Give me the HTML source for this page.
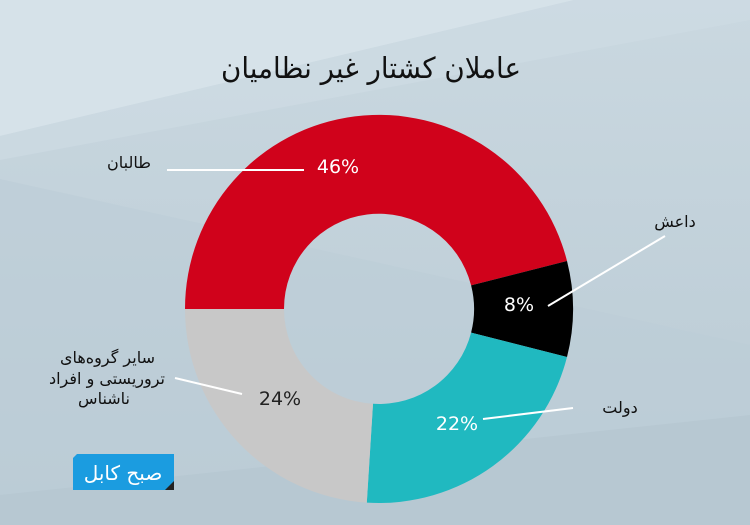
<!DOCTYPE html>
<html><head><meta charset="utf-8"><style>
html,body{margin:0;padding:0;width:750px;height:525px;overflow:hidden;background:#c4d3dc}
svg{display:block}
text{font-family:"DejaVu Sans","Liberation Sans",sans-serif}
</style></head><body>
<svg width="750" height="525" viewBox="0 0 750 525" xmlns="http://www.w3.org/2000/svg">
<defs><linearGradient id="bg" x1="0" y1="0" x2="0" y2="1"><stop offset="0" stop-color="#cad8e0"/><stop offset="1" stop-color="#b9cad4"/></linearGradient></defs>
<rect width="750" height="525" fill="url(#bg)"/>
<polygon points="0,0 574,0 0,136" fill="#d6e2e9"/>
<polygon points="574,0 750,0 750,20 0,160 0,136" fill="#cfdce4" opacity="0.6"/>
<polygon points="0,179 750,345 750,525 0,525" fill="#bccdd7" opacity="0.6"/>
<polygon points="0,495 750,415 750,525 0,525" fill="#b5c6d0" opacity="0.7"/>
<text x="371" y="78" text-anchor="middle" font-size="29" fill="#111" textLength="300" lengthAdjust="spacingAndGlyphs">عاملان  کشتار غیر نظامیان</text>
<path d="M185,309 A194,194 0 0 1 567.0,261.0 L471.1,285.4 A95,95 0 0 0 284,309 Z" fill="#d0021b"/>
<path d="M567.0,261.0 A194,194 0 0 1 567.0,357.0 L471.1,332.6 A95,95 0 0 0 471.1,285.4 Z" fill="#000"/>
<path d="M567.0,357.0 A194,194 0 0 1 366.8,502.6 L373.0,403.8 A95,95 0 0 0 471.1,332.6 Z" fill="#20b9c0"/>
<path d="M366.8,502.6 A194,194 0 0 1 185,309 L284,309 A95,95 0 0 0 373.0,403.8 Z" fill="#c8c8c8"/>
<g stroke="#fff" stroke-width="2">
<line x1="167" y1="170" x2="304" y2="170"/>
<line x1="665" y1="236" x2="548" y2="306"/>
<line x1="573" y1="408" x2="483" y2="419"/>
<line x1="175" y1="378" x2="242" y2="394"/>
</g>
<g font-size="19" text-anchor="middle">
<text x="338" y="173" fill="#fff">46%</text>
<text x="519" y="311" fill="#fff">8%</text>
<text x="457" y="430" fill="#fff">22%</text>
<text x="280" y="405" fill="#222">24%</text>
</g>
<g font-size="16" fill="#111">
<text x="129" y="168" text-anchor="middle">طالبان</text>
<text x="675" y="227" text-anchor="middle">داعش</text>
<text x="620" y="413" text-anchor="middle">دولت</text>
<text x="155" y="363" text-anchor="end">سایر گروه‌های</text>
<text x="165" y="384" text-anchor="end">تروریستی و افراد</text>
<text x="130" y="404" text-anchor="end">ناشناس</text>
</g>
<path d="M77,454 L174,454 L174,490 L73,490 L73,458 Z" fill="#1b9ce0"/>
<polygon points="174,481 174,490 165,490" fill="#222"/>
<text x="123" y="480" text-anchor="middle" font-size="20" fill="#fff">صبح کابل</text>
</svg>
</body></html>
